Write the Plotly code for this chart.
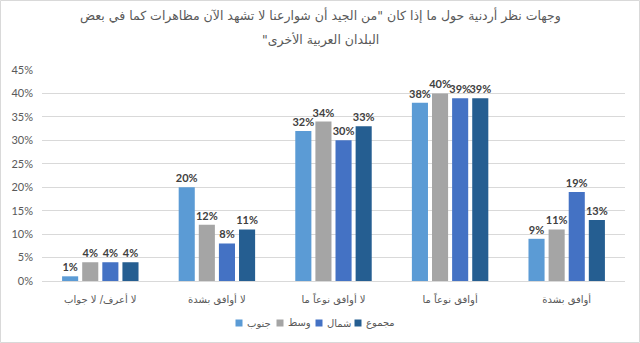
import plotly.graph_objects as go

# Response categories (left to right on the x axis)
categories = ["لا أعرف/ لا جواب", "لا أوافق بشدة", "لا أوافق نوعاً ما", "أوافق نوعاً ما", "أوافق بشدة"]

# Share of respondents (%) per region
south = [1, 20, 32, 38, 9]      # جنوب
center = [4, 12, 34, 40, 11]    # وسط
north = [4, 8, 30, 39, 19]      # شمال
total = [4, 11, 33, 39, 13]     # مجموع

y_ticks = [0, 5, 10, 15, 20, 25, 30, 35, 40, 45]

# Title lines; the trailing RLM keeps the closing quote on the right-to-left side
title_lines = [
    "\u200fوجهات نظر أردنية حول ما إذا كان \"من الجيد أن شوارعنا لا تشهد الآن مظاهرات كما في بعض\u200f",
    "\u200fالبلدان العربية الأخرى\"\u200f",
]

series = [
    ("جنوب", south, "#5B9BD5"),
    ("وسط", center, "#A5A5A5"),
    ("شمال", north, "#4472C4"),
    ("مجموع", total, "#255E91"),
]

W, H = 640, 343
L, R, T, B = 42, 15, 70, 62
pw, ph = W - L - R, H - T - B


def px_x(x):
    return (x - L) / pw


def px_y(y):
    return (T + ph - y) / ph


fig = go.Figure()
for name, vals, color in series:
    fig.add_trace(go.Bar(
        name=name,
        x=categories,
        y=vals,
        marker=dict(color=color, line=dict(width=0)),
        text=[f"<b>{v}%</b>" for v in vals],
        textposition="outside",
        textangle=0,
        constraintext="none",
        cliponaxis=False,
        textfont=dict(family="Lato, DejaVu Sans", size=11, color="#404040"),
        hoverinfo="skip",
        showlegend=False,
    ))

fig.update_layout(
    width=W,
    height=H,
    margin=dict(l=L, r=R, t=T, b=B, pad=0),
    paper_bgcolor="white",
    plot_bgcolor="white",
    barmode="group",
    bargap=0.31,
    bargroupgap=0.2,
    font=dict(family="Lato, DejaVu Sans", color="#595959"),
    xaxis=dict(
        showline=True,
        linecolor="#D9D9D9",
        linewidth=1,
        ticks="",
        ticklabelstandoff=9,
        tickfont=dict(family="DejaVu Sans, Lato", size=10, color="#595959"),
        showgrid=False,
    ),
    yaxis=dict(
        range=[0, 45],
        tickvals=y_ticks,
        ticktext=[f"{v}%" for v in y_ticks],
        tickfont=dict(family="Lato, DejaVu Sans", size=11, color="#595959"),
        ticklabelstandoff=8,
        showgrid=True,
        gridcolor="#D9D9D9",
        gridwidth=1,
        zeroline=False,
        showline=False,
        ticks="",
    ),
    showlegend=False,
)

# Two-line chart title
for i, line in enumerate(title_lines):
    fig.add_annotation(
        text=line,
        xref="paper", yref="paper",
        x=px_x(320), y=px_y(15 + 25 * i),
        xanchor="center", yanchor="middle",
        showarrow=False,
        font=dict(family="DejaVu Sans, Lato", size=12.5, color="#595959"),
    )

# Legend: small colour squares followed by region names
legend_sq_x = [239, 280, 319, 358]
legend_y = 323
for (name, _, color), sx in zip(series, legend_sq_x):
    fig.add_shape(
        type="rect", xref="paper", yref="paper",
        x0=px_x(sx - 3.5), x1=px_x(sx + 3.5),
        y0=px_y(legend_y + 3.5), y1=px_y(legend_y - 3.5),
        fillcolor=color, line=dict(width=0),
    )
    fig.add_annotation(
        text=name, xref="paper", yref="paper",
        x=px_x(sx + 6), y=px_y(legend_y),
        xanchor="left", yanchor="middle", showarrow=False,
        font=dict(family="DejaVu Sans, Lato", size=10, color="#595959"),
    )

# Light border around the whole chart area
fig.add_shape(
    type="rect",
    xref="paper", yref="paper",
    x0=px_x(0.5), x1=px_x(W - 0.5),
    y0=px_y(H - 0.5), y1=px_y(0.5),
    line=dict(color="#D9D9D9", width=1),
    fillcolor="rgba(0,0,0,0)",
    layer="below",
)

fig.write_html("out.html")
